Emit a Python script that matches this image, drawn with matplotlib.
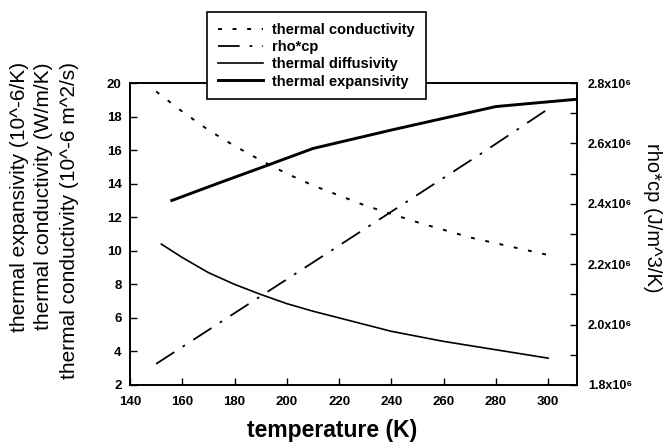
import matplotlib
matplotlib.use("Agg")
import matplotlib.pyplot as plt
from matplotlib.ticker import MultipleLocator, FixedLocator
from matplotlib.lines import Line2D

plt.rcParams['font.family'] = ['Liberation Sans', 'DejaVu Sans']

# ---- data ----
temp_k = [150, 160, 170, 180, 190, 200, 210, 220, 230, 240, 250, 260, 270, 280, 290, 300]
conductivity = [19.5, 18.3, 17.2, 16.25, 15.4, 14.6, 13.9, 13.3, 12.7, 12.2, 11.7, 11.25, 10.8, 10.45, 10.1, 9.75]

temp_rhocp = [150, 175, 200, 225, 250, 275, 301]
rho_cp = [1.87e6, 2.01e6, 2.15e6, 2.29e6, 2.43e6, 2.57e6, 2.72e6]

temp_diff = [152, 160, 170, 180, 190, 200, 210, 220, 230, 240, 250, 260, 270, 280, 290, 300]
diffusivity = [10.4, 9.6, 8.7, 8.0, 7.4, 6.85, 6.4, 6.0, 5.6, 5.2, 4.9, 4.6, 4.35, 4.1, 3.85, 3.6]

temp_exp = [156, 175, 190, 210, 240, 280, 312]
expansivity = [13.0, 14.1, 14.95, 16.1, 17.2, 18.6, 19.05]

x_ticks = [140, 160, 180, 200, 220, 240, 260, 280, 300]
y_ticks = [2, 4, 6, 8, 10, 12, 14, 16, 18, 20]
r_ticks = [1.8e6, 2.0e6, 2.2e6, 2.4e6, 2.6e6, 2.8e6]
r_labels = ["1.8x10\u2076", "2.0x10\u2076", "2.2x10\u2076", "2.4x10\u2076", "2.6x10\u2076", "2.8x10\u2076"]

series_labels = ["thermal conductivity", "rho*cp", "thermal diffusivity", "thermal expansivity"]

fig = plt.figure(figsize=(6.64, 4.44), dpi=100)
ax = fig.add_axes([0.1958, 0.1329, 0.673, 0.680])
ax2 = ax.twinx()

k_line, = ax.plot(temp_k, conductivity, color='black', lw=1.4, dashes=(2, 5.5))
d_line, = ax.plot(temp_diff, diffusivity, color='black', lw=1.2)
e_line, = ax.plot(temp_exp, expansivity, color='black', lw=2.1)
r_line, = ax2.plot(temp_rhocp, rho_cp, color='black', lw=1.3, dashes=(12, 5.5, 1.5, 5.5))

ax.set_xlim(140, 311)
ax.set_ylim(2, 20)
ax2.set_ylim(1.8e6, 2.8e6)

ax.xaxis.set_major_locator(FixedLocator(x_ticks))
ax.yaxis.set_major_locator(FixedLocator(y_ticks))
ax2.yaxis.set_major_locator(FixedLocator(r_ticks))
ax2.yaxis.set_minor_locator(MultipleLocator(0.1e6))
ax2.set_yticklabels(r_labels)

tick_font = dict(fontsize=9.5, fontweight='bold')
ax.set_xticklabels([str(v) for v in x_ticks], **tick_font)
ax.set_yticklabels([str(v) for v in y_ticks], **tick_font)
for lab in ax2.get_yticklabels():
    lab.set_fontsize(9)
    lab.set_fontweight('bold')

ax.tick_params(axis='y', direction='in', length=5, width=1, pad=6)
ax.tick_params(axis='x', direction='in', length=5, width=1, pad=8)
ax2.tick_params(axis='y', which='both', direction='in', length=5, width=1, pad=8)
ax.tick_params(top=False, right=False)

for a in (ax, ax2):
    for s in a.spines.values():
        s.set_linewidth(1.2)

lab_kw = dict(rotation=90, ha='center', va='top', fontsize=15)
fig.text(0.029, 0.86, "thermal expansivity (10^-6/K)", **lab_kw)
fig.text(0.065, 0.86, "thermal conductivity (W/m/K)", **lab_kw)
fig.text(0.105, 0.86, "thermal conductivity (10^-6 m^2/s)", **lab_kw)
fig.text(0.983, 0.509, "rho*cp (J/m^3/K)", rotation=270, ha='center', va='center', fontsize=14.5)
fig.text(0.5, 0.03, "temperature (K)", ha='center', va='center', fontsize=16.5, fontweight='bold')

handles = [
    Line2D([], [], color='black', lw=1.4, dashes=(2, 5.5)),
    Line2D([], [], color='black', lw=1.3, dashes=(12, 5.5, 1.5, 5.5)),
    Line2D([], [], color='black', lw=1.2),
    Line2D([], [], color='black', lw=2.1),
]
leg = fig.legend(handles, series_labels, loc='upper left', bbox_to_anchor=(0.312, 0.973),
                 frameon=True, fancybox=False, edgecolor='black', framealpha=1,
                 prop=dict(size=10.5, weight='bold'), handlelength=3.1, labelspacing=0.22,
                 borderpad=0.75, handletextpad=0.6, borderaxespad=0)
leg.get_frame().set_linewidth(1.2)
leg.set_zorder(10)

fig.savefig("out.png", dpi=100)
